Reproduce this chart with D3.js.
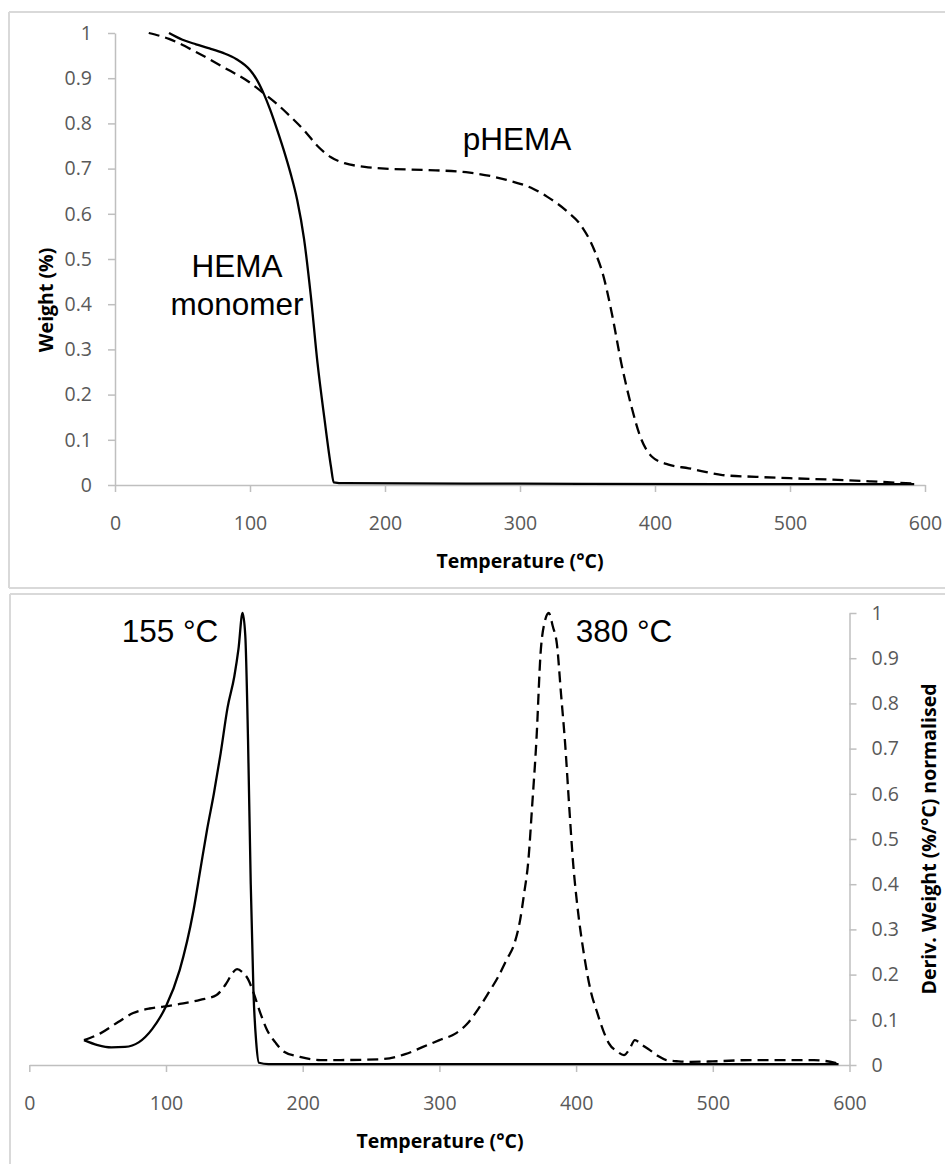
<!DOCTYPE html>
<html>
<head>
<meta charset="utf-8">
<script src="https://cdn.jsdelivr.net/npm/d3@7"></script>
<style>
body{margin:0;background:#fff;}
.tick text{font-family:"Open Sans",sans-serif;font-size:19.5px;fill:#595959;}
.axtitle{font-family:"Open Sans",sans-serif;font-size:19.5px;font-weight:bold;fill:#000;}
.note{font-family:"Liberation Sans",Arial,sans-serif;font-size:31.5px;fill:#000;}
</style>
</head>
<body>
<svg id="chart" width="945" height="1164"></svg>
<script>
// ---- data ----
const xTicks = [0,100,200,300,400,500,600];
const yTicks = [0,0.1,0.2,0.3,0.4,0.5,0.6,0.7,0.8,0.9,1];

// TGA weight, HEMA monomer (solid)
const tHemaW = [40,50,60,70,80,90,100,105,110,115,120,125,130,135,140,145,150,155,160,162,170,300,450,592];
const wHema  = [1.0,0.985,0.975,0.966,0.956,0.942,0.918,0.897,0.867,0.83,0.787,0.741,0.69,0.63,0.545,0.42,0.27,0.15,0.04,0.006,0.004,0.003,0.002,0.002];

// TGA weight, pHEMA (dashed)
const tPhemaW = [25,40,60,80,100,110,120,130,140,150,160,170,185,200,230,260,290,310,320,335,345,355,362,368,375,382,390,398,410,425,450,475,500,530,560,592];
const wPhema  = [1.0,0.987,0.958,0.925,0.89,0.867,0.843,0.815,0.785,0.75,0.725,0.712,0.704,0.700,0.697,0.692,0.675,0.655,0.638,0.605,0.575,0.52,0.46,0.38,0.27,0.18,0.10,0.062,0.045,0.037,0.022,0.018,0.015,0.012,0.008,0.003];

// derivative weight (normalised), HEMA monomer (solid)
const tHemaD = [40,50,60,70,80,90,100,110,120,125,130,135,140,145,150,153,156,158,160,162,164,166,168,175,300,450,592];
const dHema  = [0.055,0.044,0.039,0.04,0.05,0.08,0.13,0.21,0.34,0.43,0.52,0.60,0.69,0.79,0.86,0.92,1.0,0.95,0.72,0.40,0.16,0.05,0.005,0.002,0.002,0.002,0.002];

// derivative weight (normalised), pHEMA (dashed)
const tPhemaD = [40,52,65,76,88,98,110,125,137,144,149,152,156,160,164,169,174,180,186,198,213,228,258,275,288,300,312,320,328,336,343,349,355,359,362,365,368,371,374,377,380,383,386,389,392,395,398,401,406,411,415,420,424,430,435,439,443,448,454,460,466,475,484,500,529,574,591];
const dPhema  = [0.055,0.07,0.095,0.115,0.125,0.129,0.135,0.144,0.155,0.18,0.205,0.212,0.205,0.19,0.16,0.115,0.077,0.05,0.03,0.018,0.011,0.011,0.013,0.024,0.04,0.055,0.07,0.09,0.122,0.16,0.195,0.232,0.27,0.32,0.38,0.45,0.58,0.72,0.91,0.98,1.0,0.97,0.93,0.82,0.71,0.57,0.44,0.35,0.24,0.16,0.12,0.075,0.048,0.03,0.022,0.035,0.055,0.045,0.033,0.02,0.011,0.008,0.007,0.008,0.011,0.011,0.004];

const svg = d3.select("#chart");
const axisColor = "#bfbfbf";

// panel frames
const frame = [[9,12,945,12],[9,12,9,588],[9,588,945,588],[10,594,945,594],[10,594,10,1164]];
svg.selectAll("line.frame").data(frame).join("line")
    .attr("class","frame")
    .attr("x1",d=>d[0]).attr("y1",d=>d[1]).attr("x2",d=>d[2]).attr("y2",d=>d[3])
    .attr("stroke","#d9d9d9").attr("stroke-width",2);

function styleAxis(g){
    g.select(".domain").attr("stroke",axisColor).attr("stroke-width",1.5);
    g.selectAll(".tick line").attr("stroke",axisColor).attr("stroke-width",1.5);
}
const fmt = d => d===0||d===1 ? String(d) : d3.format(".1f")(d);

function drawCurve(g, ts, vs, x, y, dashed){
    const pts = ts.map((t,i)=>[t,vs[i]]);
    g.append("path").datum(pts)
        .attr("fill","none").attr("stroke","#000").attr("stroke-width",2.3)
        .attr("stroke-dasharray", dashed ? "11,6" : null)
        .attr("d", d3.line().x(d=>x(d[0])).y(d=>y(d[1])).curve(d3.curveMonotoneX));
}

// ---------- top panel: weight ----------
const x1 = d3.scaleLinear().domain([0,600]).range([115,925]);
const y1 = d3.scaleLinear().domain([0,1]).range([485,33]);
const topPanel = svg.append("g");

topPanel.append("g").attr("transform","translate(0,485)")
    .call(d3.axisBottom(x1).tickValues(xTicks).tickSize(7).tickSizeOuter(0))
    .call(styleAxis)
    .call(g=>g.selectAll(".tick text").attr("y",45).attr("dy",null));
topPanel.append("g").attr("transform","translate(115,0)")
    .call(d3.axisLeft(y1).tickValues(yTicks).tickFormat(fmt).tickSize(7).tickSizeOuter(0))
    .call(styleAxis)
    .call(g=>g.selectAll(".tick text").attr("x",-23));

topPanel.append("text").attr("class","axtitle").attr("text-anchor","middle")
    .attr("x",520).attr("y",568).text("Temperature (°C)");
topPanel.append("text").attr("class","axtitle").attr("text-anchor","middle")
    .attr("transform","translate(53,300) rotate(-90)").text("Weight (%)");

drawCurve(topPanel, tPhemaW, wPhema, x1, y1, true);
drawCurve(topPanel, tHemaW, wHema, x1, y1, false);

topPanel.append("text").attr("class","note").attr("text-anchor","middle").attr("x",517).attr("y",150).text("pHEMA");
topPanel.append("text").attr("class","note").attr("text-anchor","middle").attr("x",237).attr("y",277).text("HEMA");
topPanel.append("text").attr("class","note").attr("text-anchor","middle").attr("x",237).attr("y",315).text("monomer");

// ---------- bottom panel: derivative ----------
const x2 = d3.scaleLinear().domain([0,600]).range([29.3,849.5]);
const y2 = d3.scaleLinear().domain([0,1]).range([1065,613]);
const botPanel = svg.append("g");

botPanel.append("g").attr("transform","translate(0,1065)")
    .call(d3.axisBottom(x2).tickValues(xTicks).tickSize(7).tickSizeOuter(0))
    .call(styleAxis)
    .call(g=>g.selectAll(".tick text").attr("y",45).attr("dy",null));
botPanel.append("g").attr("transform","translate(849.5,0)")
    .call(d3.axisRight(y2).tickValues(yTicks).tickFormat(fmt).tickSize(7).tickSizeOuter(0))
    .call(styleAxis)
    .call(g=>g.selectAll(".tick text").attr("x",22));

botPanel.append("text").attr("class","axtitle").attr("text-anchor","middle")
    .attr("x",440).attr("y",1148).text("Temperature (°C)");
botPanel.append("text").attr("class","axtitle").attr("text-anchor","middle")
    .attr("transform","translate(936,839) rotate(-90)").text("Deriv. Weight (%/°C) normalised");

drawCurve(botPanel, tPhemaD, dPhema, x2, y2, true);
drawCurve(botPanel, tHemaD, dHema, x2, y2, false);

botPanel.append("text").attr("class","note").attr("text-anchor","middle").attr("x",170).attr("y",642).text("155 °C");
botPanel.append("text").attr("class","note").attr("text-anchor","middle").attr("x",624).attr("y",642).text("380 °C");
</script>
</body>
</html>
